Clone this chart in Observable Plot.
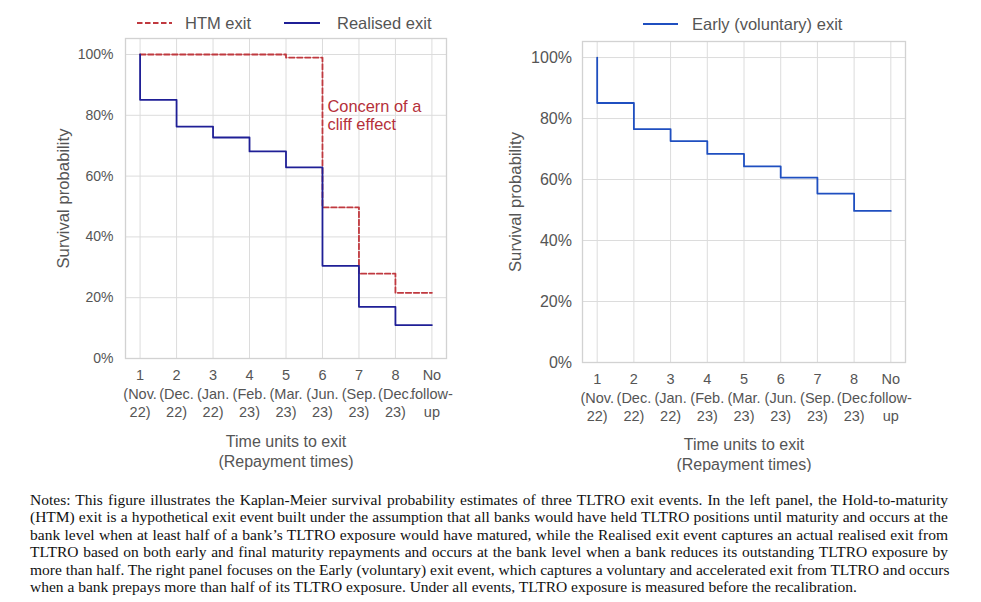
<!DOCTYPE html>
<html>
<head>
<meta charset="utf-8">
<script src="https://cdn.jsdelivr.net/npm/d3@7"></script>
<script src="https://cdn.jsdelivr.net/npm/@observablehq/plot@0.6"></script>
<style>
  html, body { margin: 0; padding: 0; background: #fff; }
  #wrap { position: relative; width: 981px; height: 602px; overflow: hidden; font-family: "Liberation Sans", Arial, sans-serif; }
  .abs { position: absolute; }
  .leg { position: absolute; display: flex; align-items: center; font-size: 16.5px; color: #555; white-space: nowrap; }
  .leg svg { display: block; }
  #notes { position: absolute; left: 30px; top: 491px; width: 918px; font-family: "Liberation Serif", "Times New Roman", serif; font-size: 15.5px; line-height: 17.4px; color: #111; }
  #notes div { text-align: justify; text-align-last: justify; white-space: nowrap; }
  #notes div.last { text-align-last: left; }
</style>
</head>
<body>
<div id="wrap">
  <div class="leg" style="left:137px; top:11px;">
    <svg width="36" height="24"><line x1="0" x2="35" y1="12" y2="12" stroke="#c0393f" stroke-width="2" stroke-dasharray="5.5,2.5"/></svg>
    <span style="margin-left:12px;">HTM exit</span>
  </div>
  <div class="leg" style="left:284px; top:11px;">
    <svg width="37" height="24"><line x1="0" x2="36" y1="12" y2="12" stroke="#1f1f96" stroke-width="2"/></svg>
    <span style="margin-left:16px;">Realised exit</span>
  </div>
  <div class="leg" style="left:643px; top:12px;">
    <svg width="36" height="24"><line x1="0" x2="35" y1="12" y2="12" stroke="#1f4fc0" stroke-width="2"/></svg>
    <span style="margin-left:13px;">Early (voluntary) exit</span>
  </div>
  <div id="left" class="abs" style="left:0px; top:0px;"></div>
  <div id="right" class="abs" style="left:470px; top:0px;"></div>
  <div id="notes">
    <div>Notes: This figure illustrates the Kaplan-Meier survival probability estimates of three TLTRO exit events. In the left panel, the Hold-to-maturity</div>
    <div>(HTM) exit is a hypothetical exit event built under the assumption that all banks would have held TLTRO positions until maturity and occurs at the</div>
    <div>bank level when at least half of a bank’s TLTRO exposure would have matured, while the Realised exit event captures an actual realised exit from</div>
    <div>TLTRO based on both early and final maturity repayments and occurs at the bank level when a bank reduces its outstanding TLTRO exposure by</div>
    <div>more than half. The right panel focuses on the Early (voluntary) exit event, which captures a voluntary and accelerated exit from TLTRO and occurs</div>
    <div class="last">when a bank prepays more than half of its TLTRO exposure. Under all events, TLTRO exposure is measured before the recalibration.</div>
  </div>
</div>
<script>
// ---- data ----
const times = [1, 2, 3, 4, 5, 6, 7, 8, 9];
const tickLabels = ["1\n(Nov.\n22)", "2\n(Dec.\n22)", "3\n(Jan.\n22)", "4\n(Feb.\n23)", "5\n(Mar.\n23)", "6\n(Jun.\n23)", "7\n(Sep.\n23)", "8\n(Dec.\n23)", "No\nfollow-\nup"];
const yTicks = [0, 0.2, 0.4, 0.6, 0.8, 1.0];
const startSurvival = 1.0;
const htmExit = [1.0, 1.0, 1.0, 1.0, 0.990, 0.497, 0.279, 0.216, 0.216];
const realisedExit = [0.851, 0.763, 0.727, 0.681, 0.629, 0.305, 0.170, 0.110, 0.110];
const earlyExit = [0.851, 0.765, 0.726, 0.684, 0.643, 0.606, 0.554, 0.497, 0.497];
const annotation = [{t: 6, s: 0.80, text: "Concern of a\ncliff effect"}];
const yLabel = "Survival probability";
const xLabel = "Time units to exit\n(Repayment times)";

const RED = "#c0393f", NAVY = "#1f1f96", BLUE = "#1f4fc0";
const GRID = "#dcdcdc", FRAME = "#d2d2d2", TEXT = "#555";

function series(vals) {
  return [{t: times[0], s: startSurvival}, ...times.map((t, i) => ({t, s: vals[i]}))];
}

function common(yTickSize, yPad, yLabelDx, xLabelDy) {
  return [
    Plot.gridX({ticks: times, stroke: GRID, strokeOpacity: 1, strokeWidth: 1}),
    Plot.gridY({ticks: yTicks, stroke: GRID, strokeOpacity: 1, strokeWidth: 1}),
    Plot.frame({stroke: FRAME, strokeWidth: 1.3}),
    Plot.axisX({ticks: times, tickSize: 0, tickPadding: 9, tickFormat: d => tickLabels[d - 1], lineHeight: 1.26, fontSize: 14.5, label: null, fill: TEXT}),
    Plot.axisY({ticks: yTicks, tickSize: 0, tickPadding: yPad, tickFormat: d3.format(".0%"), fontSize: yTickSize, label: null, fill: TEXT}),
    Plot.text([yLabel], {text: d => d, frameAnchor: "left", textAnchor: "middle", dx: yLabelDx, rotate: -90, fontSize: 16.7, fill: TEXT}),
    Plot.text([xLabel], {text: d => d, frameAnchor: "bottom", dy: xLabelDy, lineHeight: 1.22, fontSize: 16, fill: TEXT})
  ];
}

const left = Plot.plot({
  width: 470, height: 470,
  marginTop: 38, marginBottom: 112, marginLeft: 125, marginRight: 24,
  style: {fontFamily: "Liberation Sans, Arial, sans-serif", color: TEXT, background: "transparent"},
  x: {domain: [0.6, 9.4]},
  y: {domain: [0, 1.0526]},
  marks: [
    ...common(14, 12, -62, 108),
    Plot.line(series(htmExit), {x: "t", y: "s", curve: "step-after", stroke: RED, strokeWidth: 1.8, strokeDasharray: "5.5,2.5"}),
    Plot.line(series(realisedExit), {x: "t", y: "s", curve: "step-after", stroke: NAVY, strokeWidth: 1.8}),
    Plot.text(annotation, {x: "t", y: "s", text: "text", textAnchor: "start", dx: 5, lineHeight: 1.08, fontSize: 16.4, fill: "#b5303a"})
  ]
});
document.getElementById("left").appendChild(left);

const right = Plot.plot({
  width: 460, height: 472,
  marginTop: 41, marginBottom: 110, marginLeft: 112, marginRight: 25,
  style: {fontFamily: "Liberation Sans, Arial, sans-serif", color: TEXT, background: "transparent"},
  x: {domain: [0.6, 9.4]},
  y: {domain: [0, 1.0526]},
  marks: [
    ...common(16, 10.5, -67, 107),
    Plot.line(series(earlyExit), {x: "t", y: "s", curve: "step-after", stroke: BLUE, strokeWidth: 1.8})
  ]
});
document.getElementById("right").appendChild(right);
</script>
</body>
</html>
